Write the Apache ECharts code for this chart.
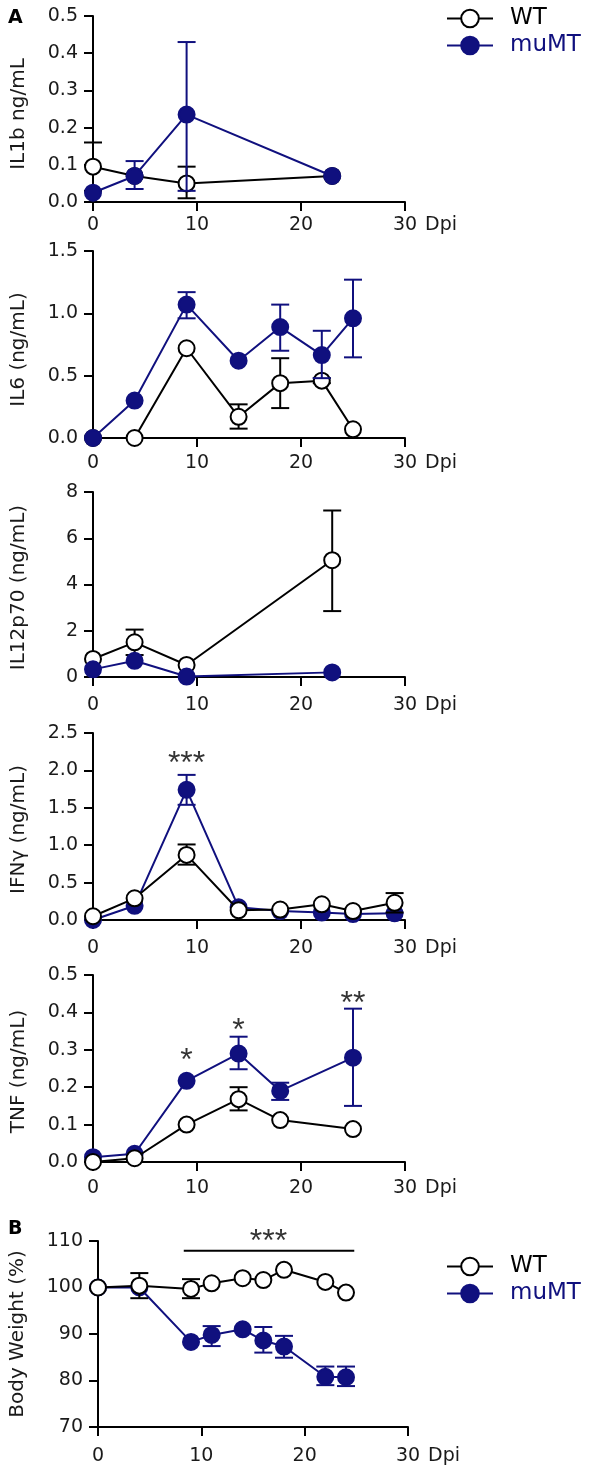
<!DOCTYPE html>
<html><head><meta charset="utf-8">
<script src="https://cdn.jsdelivr.net/npm/echarts@6/dist/echarts.min.js"></script>
<style>html,body{margin:0;padding:0;background:#fff}#c{width:589px;height:1471px}</style>
</head><body><div id="c"></div><script>
// ---------- DATA ----------
const xTickLabels = [0, 10, 20, 30];
// IL1b
const il1bWtX = [0, 4, 9, 23];
const il1bWtY = [0.095, 0.07, 0.05, 0.07];
const il1bWtLo = [0.03, 0.07, 0.01, 0.07];
const il1bWtHi = [0.16, 0.07, 0.095, 0.07];
const il1bMuX = [0, 4, 9, 23];
const il1bMuY = [0.025, 0.07, 0.235, 0.07];
const il1bMuLo = [0.025, 0.035, 0.03, 0.07];
const il1bMuHi = [0.025, 0.11, 0.43, 0.07];
// IL6
const il6WtX = [0, 4, 9, 14, 18, 22, 25];
const il6WtY = [0, 0, 0.72, 0.17, 0.44, 0.46, 0.07];
const il6WtLo = [0, 0, 0.72, 0.075, 0.24, 0.44, 0.07];
const il6WtHi = [0, 0, 0.72, 0.27, 0.64, 0.48, 0.07];
const il6MuX = [0, 4, 9, 14, 18, 22, 25];
const il6MuY = [0, 0.3, 1.07, 0.62, 0.89, 0.665, 0.96];
const il6MuLo = [0, 0.3, 0.96, 0.62, 0.70, 0.48, 0.647];
const il6MuHi = [0, 0.3, 1.17, 0.62, 1.07, 0.86, 1.27];
// IL12p70
const il12WtX = [0, 4, 9, 23];
const il12WtY = [0.78, 1.5, 0.52, 5.05];
const il12WtLo = [0.78, 0.95, 0.52, 2.85];
const il12WtHi = [0.78, 2.05, 0.52, 7.2];
const il12MuX = [0, 4, 9, 23];
const il12MuY = [0.33, 0.7, 0.02, 0.2];
const il12MuLo = [0.33, 0.7, 0.02, 0.2];
const il12MuHi = [0.33, 0.7, 0.02, 0.2];
// IFNg
const ifnWtX = [0, 4, 9, 14, 18, 22, 25, 29];
const ifnWtY = [0.05, 0.29, 0.87, 0.13, 0.14, 0.21, 0.12, 0.23];
const ifnWtLo = [0.05, 0.29, 0.74, 0.13, 0.14, 0.21, 0.12, 0.10];
const ifnWtHi = [0.05, 0.29, 1.01, 0.13, 0.14, 0.21, 0.12, 0.36];
const ifnMuX = [0, 4, 9, 14, 18, 22, 25, 29];
const ifnMuY = [0.0, 0.19, 1.74, 0.17, 0.12, 0.10, 0.08, 0.09];
const ifnMuLo = [0.0, 0.19, 1.54, 0.17, 0.12, 0.10, 0.08, 0.09];
const ifnMuHi = [0.0, 0.19, 1.94, 0.17, 0.12, 0.10, 0.08, 0.09];
// TNF
const tnfWtX = [0, 4, 9, 14, 18, 25];
const tnfWtY = [0.0, 0.01, 0.10, 0.168, 0.112, 0.088];
const tnfWtLo = [0.0, 0.01, 0.10, 0.138, 0.112, 0.088];
const tnfWtHi = [0.0, 0.01, 0.10, 0.20, 0.112, 0.088];
const tnfMuX = [0, 4, 9, 14, 18, 25];
const tnfMuY = [0.013, 0.022, 0.217, 0.29, 0.19, 0.279];
const tnfMuLo = [0.013, 0.022, 0.217, 0.248, 0.166, 0.15];
const tnfMuHi = [0.013, 0.022, 0.217, 0.335, 0.212, 0.41];
// Body weight
const bwWtX = [0, 4, 9, 11, 14, 16, 18, 22, 24];
const bwWtY = [100, 100.4, 99.7, 100.9, 102, 101.6, 103.8, 101.2, 98.9];
const bwWtLo = [100, 97.7, 97.7, 100.9, 102, 101.6, 103.8, 101.2, 98.9];
const bwWtHi = [100, 103.1, 101.8, 100.9, 102, 101.6, 103.8, 101.2, 98.9];
const bwMuX = [0, 4, 9, 11, 14, 16, 18, 22, 24];
const bwMuY = [100, 100, 88.3, 89.8, 91, 88.6, 87.3, 80.8, 80.7];
const bwMuLo = [100, 100, 88.3, 87.4, 91, 86.0, 84.9, 79.0, 78.8];
const bwMuHi = [100, 100, 88.3, 91.7, 91, 91.5, 89.6, 83.0, 83.0];
// significance marks
const ifnSigX = [9];   const ifnSigY = [2.08]; const ifnSigText = ['***'];
const tnfSigX = [9, 14, 25]; const tnfSigY = [0.269, 0.349, 0.422]; const tnfSigText = ['*', '*', '**'];
const bwSigX = [16.5]; const bwSigY = [109.8]; const bwSigText = ['***'];
const bwBarX = [8.3, 24.8]; const bwBarY = [107.9, 107.9];

// ---------- STYLE / LAYOUT ----------
const BLUE = '#10107e';
const FONT = '"DejaVu Sans", "Liberation Sans", Arial, sans-serif';
const STARFONT = '"Liberation Sans", Arial, sans-serif';
const TXT = '#1a1a1a';
const FS = 19;

const panels = [
  {name: 'IL1b ng/mL', left: 93, top: 16, h: 186, min: 0, max: 0.5, step: 0.1, dec: 1, gap: 64, lm: 14, shift: 10,
   wt: [il1bWtX, il1bWtY, il1bWtLo, il1bWtHi], mu: [il1bMuX, il1bMuY, il1bMuLo, il1bMuHi], wtTop: false},
  {name: 'IL6 (ng/mL)', left: 93, top: 251, h: 187, min: 0, max: 1.5, step: 0.5, dec: 1, gap: 64, lm: 16, shift: 10,
   wt: [il6WtX, il6WtY, il6WtLo, il6WtHi], mu: [il6MuX, il6MuY, il6MuLo, il6MuHi], wtTop: false},
  {name: 'IL12p70 (ng/mL)', left: 93, top: 492, h: 185, min: 0, max: 8, step: 2, dec: 0, gap: 64, lm: 19, shift: 6,
   wt: [il12WtX, il12WtY, il12WtLo, il12WtHi], mu: [il12MuX, il12MuY, il12MuLo, il12MuHi], wtTop: false},
  {name: 'IFNγ (ng/mL)', left: 93, top: 733, h: 187, min: 0, max: 2.5, step: 0.5, dec: 1, gap: 64, lm: 19, shift: 6,
   wt: [ifnWtX, ifnWtY, ifnWtLo, ifnWtHi], mu: [ifnMuX, ifnMuY, ifnMuLo, ifnMuHi], wtTop: true,
   sig: [ifnSigX, ifnSigY, ifnSigText]},
  {name: 'TNF (ng/mL)', left: 93, top: 975, h: 187, min: 0, max: 0.5, step: 0.1, dec: 1, gap: 64, lm: 17, shift: 6,
   wt: [tnfWtX, tnfWtY, tnfWtLo, tnfWtHi], mu: [tnfMuX, tnfMuY, tnfMuLo, tnfMuHi], wtTop: true,
   sig: [tnfSigX, tnfSigY, tnfSigText]},
  {name: 'Body Weight (%)', left: 96, top: 1241, h: 186, min: 70, max: 110, step: 10, dec: 0, gap: 70, lm: 20, shift: 0,
   wt: [bwWtX, bwWtY, bwWtLo, bwWtHi], mu: [bwMuX, bwMuY, bwMuLo, bwMuHi], wtTop: true,
   sig: [bwSigX, bwSigY, bwSigText], bar: [bwBarX, bwBarY]}
];

const zip = (a, b) => a.map((v, i) => [v, b[i]]);
const zip3 = (a, b, c) => a.map((v, i) => [v, b[i], c[i]]);

function errSeries(arr, color, idx, z) {
  return {
    type: 'custom', xAxisIndex: idx, yAxisIndex: idx, z: z, silent: true,
    data: zip3(arr[0], arr[2], arr[3]),
    renderItem: function (params, api) {
      const x = api.value(0), lo = api.value(1), hi = api.value(2);
      if (hi - lo <= 0) return null;
      const pH = api.coord([x, hi]), pL = api.coord([x, lo]);
      const w = 9;
      const st = {stroke: color, lineWidth: 2};
      return {type: 'group', children: [
        {type: 'line', shape: {x1: pH[0], y1: pH[1], x2: pL[0], y2: pL[1]}, style: st},
        {type: 'line', shape: {x1: pH[0] - w, y1: pH[1], x2: pH[0] + w, y2: pH[1]}, style: st},
        {type: 'line', shape: {x1: pL[0] - w, y1: pL[1], x2: pL[0] + w, y2: pL[1]}, style: st}
      ]};
    }
  };
}

const grid = [], xAxis = [], yAxis = [], series = [];
panels.forEach((p, i) => {
  grid.push({left: p.left, top: p.top, width: 312, height: p.h});
  xAxis.push({
    type: 'value', gridIndex: i, min: xTickLabels[0], max: xTickLabels[xTickLabels.length - 1], interval: 10,
    name: 'Dpi', nameLocation: 'end', nameGap: 20,
    nameTextStyle: {fontFamily: FONT, fontSize: FS, color: TXT, verticalAlign: 'top', padding: [p.lm, 0, 0, 0]},
    axisLine: {show: true, onZero: false, lineStyle: {color: '#000', width: 2}},
    axisTick: {show: true, length: 9, lineStyle: {color: '#000', width: 2}},
    axisLabel: {fontFamily: FONT, fontSize: FS, color: TXT, margin: p.lm},
    splitLine: {show: false}
  });
  yAxis.push({
    type: 'value', gridIndex: i, min: p.min, max: p.max, interval: p.step,
    name: p.name, nameLocation: 'middle', nameGap: p.gap,
    nameTextStyle: {fontFamily: FONT, fontSize: 20, color: TXT, padding: [0, p.shift, 0, 0]},
    axisLine: {show: true, onZero: false, lineStyle: {color: '#000', width: 2}},
    axisTick: {show: true, length: 9, lineStyle: {color: '#000', width: 2}},
    axisLabel: {fontFamily: FONT, fontSize: FS, color: TXT, margin: 15,
      formatter: v => v.toFixed(p.dec)},
    splitLine: {show: false}
  });
  const zWt = p.wtTop ? 6 : 2, zMu = p.wtTop ? 2 : 6;
  series.push(errSeries(p.wt, '#000', i, zWt - 1));
  series.push({
    name: 'WT', type: 'line', xAxisIndex: i, yAxisIndex: i, z: zWt,
    data: zip(p.wt[0], p.wt[1]), symbol: 'circle', symbolSize: 16, showAllSymbol: true,
    lineStyle: {color: '#000', width: 2},
    itemStyle: {color: '#fff', borderColor: '#000', borderWidth: 2},
    emphasis: {disabled: true}, animation: false
  });
  series.push(errSeries(p.mu, BLUE, i, zMu - 1));
  series.push({
    name: 'muMT', type: 'line', xAxisIndex: i, yAxisIndex: i, z: zMu,
    data: zip(p.mu[0], p.mu[1]), symbol: 'circle', symbolSize: 16, showAllSymbol: true,
    lineStyle: {color: BLUE, width: 2},
    itemStyle: {color: BLUE, borderColor: BLUE, borderWidth: 2},
    emphasis: {disabled: true}, animation: false
  });
  if (p.sig) {
    series.push({
      type: 'scatter', xAxisIndex: i, yAxisIndex: i, z: 10, symbolSize: 0, silent: true,
      data: p.sig[0].map((x, k) => ({value: [x, p.sig[1][k]], name: p.sig[2][k]})),
      label: {show: true, position: [0, 0], align: 'center', verticalAlign: 'middle',
        formatter: d => d.name, fontFamily: STARFONT, fontSize: 32, fontWeight: 'normal', color: '#000'},
      animation: false
    });
  }
  if (p.bar) {
    series.push({
      type: 'line', xAxisIndex: i, yAxisIndex: i, z: 10, symbol: 'none', silent: true,
      data: zip(p.bar[0], p.bar[1]), lineStyle: {color: '#000', width: 2}, animation: false
    });
  }
});

const legendCommon = {
  orient: 'vertical', left: 441, itemWidth: 46, itemHeight: 22, itemGap: 4,
  textStyle: {fontFamily: FONT, fontSize: 23, padding: [0, 0, 0, 12]}, selectedMode: false
};

const option = {
  backgroundColor: '#fff',
  animation: false,
  title: [
    {text: 'A', left: 3, top: 4, textStyle: {fontFamily: FONT, fontSize: 19, fontWeight: 'bold', color: '#000'}},
    {text: 'B', left: 3, top: 1215, textStyle: {fontFamily: FONT, fontSize: 19, fontWeight: 'bold', color: '#000'}}
  ],
  legend: [
    Object.assign({}, legendCommon, {top: 2, data: [
      {name: 'WT', textStyle: {color: '#000'}}, {name: 'muMT', textStyle: {color: BLUE}}]}),
    Object.assign({}, legendCommon, {top: 1250, data: [
      {name: 'WT', textStyle: {color: '#000'}}, {name: 'muMT', textStyle: {color: BLUE}}]})
  ],
  grid: grid, xAxis: xAxis, yAxis: yAxis, series: series
};
const chart = echarts.init(document.getElementById('c'), null, {renderer: 'canvas'});
chart.setOption(option);
</script></body></html>
